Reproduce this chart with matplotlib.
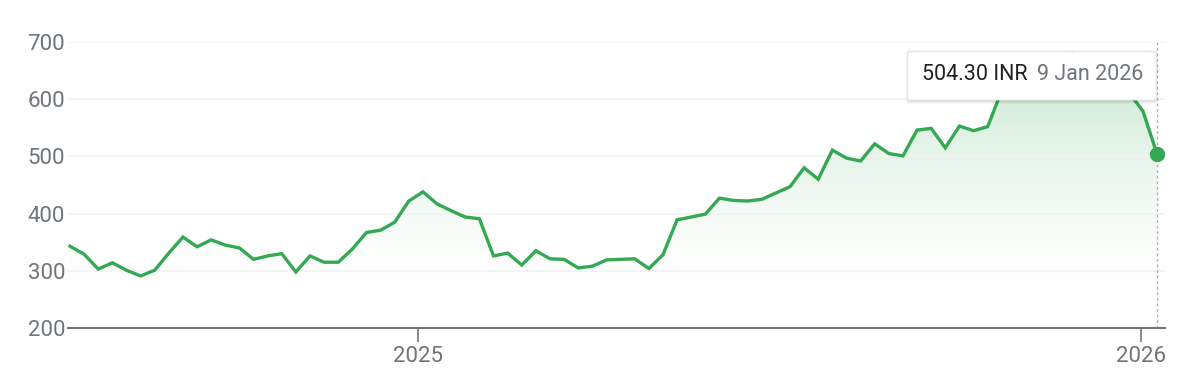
import matplotlib
matplotlib.use("Agg")
import matplotlib.pyplot as plt
import matplotlib.dates as mdates
from matplotlib.patches import FancyBboxPatch, Polygon
import numpy as np
import pandas as pd

plt.rcParams['font.family'] = ['Roboto', 'DejaVu Sans']

# ---- data ----
start_date = "2024-07-09"
end_date = "2026-01-09"
prices = [343, 329, 303, 314, 301, 291, 301, 331, 359, 342, 354, 345, 340, 320,
          326, 330, 298, 326, 315, 315, 338, 367, 371, 385,
          422, 438, 417, 405, 394, 391, 326, 331, 310, 335, 321, 320, 305, 308,
          319, 320, 321, 304, 328, 389, 394, 399, 427, 423, 422, 425, 436,
          447, 480, 460, 511, 497, 492, 522, 505, 501, 546, 549, 515, 553, 545, 552,
          615, 640, 655, 645, 665, 680, 670, 655, 640, 612,
          579, 504.30]
dates = pd.date_range(start_date, end_date, periods=len(prices))
y_ticks = [200, 300, 400, 500, 600, 700]
x_ticks = ["2025-01-01", "2026-01-01"]
x_tick_labels = ["2025", "2026"]
tooltip_value = "504.30 INR"
tooltip_date = "9 Jan 2026"

GREEN = "#34a853"
GREY_TXT = "#70757a"

W, H = 1180, 368
fig = plt.figure(figsize=(W / 100, H / 100), dpi=100)
ax = fig.add_axes([68 / W, 1 - 328 / H, (1165 - 68) / W, (328 - 42) / H])

xnum = mdates.date2num(dates)
x0 = mdates.date2num(pd.Timestamp("2024-07-08"))
x1 = mdates.date2num(pd.Timestamp("2026-01-13"))
ax.set_xlim(x0, x1)
ax.set_ylim(200, 700)

# gradient fill under the line
grad = np.linspace(0, 1, 256).reshape(-1, 1)
alpha = np.clip((grad - 0.12) / 0.88, 0, 1) ** 1.5 * 0.3
rgba = np.zeros((256, 1, 4))
rgba[..., 0] = 0x34 / 255
rgba[..., 1] = 0xa8 / 255
rgba[..., 2] = 0x53 / 255
rgba[..., 3] = alpha
im = ax.imshow(rgba, extent=[x0, x1, 200, 700], origin="lower", aspect="auto",
               zorder=1, interpolation="bilinear")
poly_xy = np.column_stack([np.r_[xnum[0], xnum, xnum[-1]],
                           np.r_[200, prices, 200]])
poly = Polygon(poly_xy, closed=True, transform=ax.transData, facecolor="none",
               edgecolor="none")
ax.add_patch(poly)
im.set_clip_path(poly)

# grid
for yv in y_ticks[1:]:
    ax.axhline(yv, color="#f1f3f4", lw=1.2, zorder=2)

ax.plot(xnum, prices, color=GREEN, lw=2.4, zorder=4, solid_joinstyle="miter")
ax.axvline(xnum[-1], color="#b0b0b0", lw=1, ls=(0, (2, 2)), zorder=3)
ax.plot([xnum[-1]], [prices[-1]], "o", color=GREEN, ms=10, zorder=5,
        clip_on=False)

for s in ["top", "right", "left"]:
    ax.spines[s].set_visible(False)
ax.spines["bottom"].set_color("#757575")
ax.spines["bottom"].set_linewidth(1.5)
ax.spines["bottom"].set_zorder(6)

ax.set_yticks(y_ticks)
ax.set_yticklabels([str(v) for v in y_ticks])
ax.tick_params(axis="y", length=0, pad=2, labelsize=16, labelcolor=GREY_TXT)
ax.set_xticks([mdates.date2num(pd.Timestamp(t)) for t in x_ticks])
ax.set_xticklabels(x_tick_labels)
ax.tick_params(axis="x", length=10, width=1.2, color="#757575", pad=3,
               labelsize=16, labelcolor=GREY_TXT)

# tooltip
bx0, by0, bx1, by1 = 908, 52, 1156, 100
for i, a in enumerate([0.05, 0.04, 0.03]):
    d = i + 1
    sh = FancyBboxPatch(((bx0 - d + 1) / W, 1 - (by1 + d + 1) / H),
                        (bx1 - bx0 + 2 * d - 2) / W, (by1 - by0 + 2 * d) / H,
                        boxstyle="round,pad=0,rounding_size=0.004",
                        transform=fig.transFigure, facecolor="black",
                        edgecolor="none", alpha=a, zorder=9)
    fig.add_artist(sh)
box = FancyBboxPatch((bx0 / W, 1 - by1 / H), (bx1 - bx0) / W, (by1 - by0) / H,
                     boxstyle="round,pad=0,rounding_size=0.004",
                     transform=fig.transFigure, facecolor="white",
                     edgecolor="#e8e8e8", lw=0.6, zorder=10)
fig.add_artist(box)
fig.text(922 / W, 1 - 75 / H, tooltip_value, color="#202124", fontsize=15.5,
         va="center", ha="left", zorder=11)
fig.text(1143 / W, 1 - 75 / H, tooltip_date, color=GREY_TXT, fontsize=15.5,
         va="center", ha="right", zorder=11)

fig.savefig("out.png", dpi=100)
